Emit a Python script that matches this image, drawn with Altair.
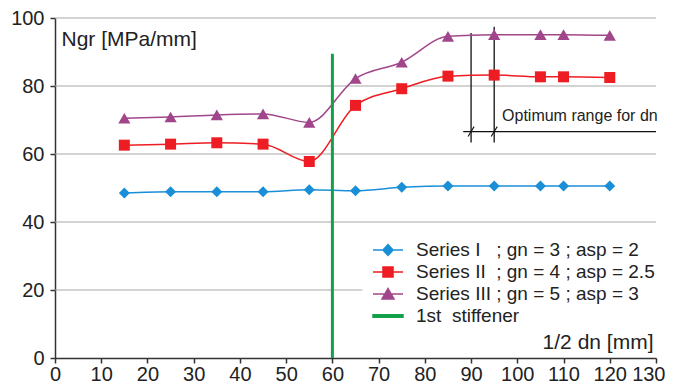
import altair as alt
import pandas as pd

# ---- data ----
x_vals = [15, 25, 35, 45, 55, 65, 75, 85, 95, 105, 110, 120]
s1 = [48.5, 48.9, 48.9, 48.9, 49.5, 49.2, 50.2, 50.6, 50.6, 50.6, 50.6, 50.6]
s2 = [62.6, 62.9, 63.3, 62.9, 57.8, 74.3, 79.2, 82.9, 83.2, 82.7, 82.7, 82.5]
s3 = [70.5, 70.9, 71.5, 71.8, 69.3, 82.2, 87.0, 94.6, 95.1, 95.1, 95.1, 94.9]

NB = "\u00a0"
labels = [
    "Series I" + NB * 3 + "; gn = 3 ; asp = 2",
    "Series II" + NB * 2 + "; gn = 4 ; asp = 2.5",
    "Series III" + NB + "; gn = 5 ; asp = 3",
    "1st" + NB * 2 + "stiffener",
]
colors = ["#1a8fd8", "#ee1d23", "#a1468a", "#12a04a"]
shapes = ["diamond", "square", "triangle-up"]
point_sizes = [121, 121, 150]
legend_paths = [
    "M-1.5,0H1.5M0,-0.55L0.5,0L0,0.55L-0.5,0Z",
    "M-1.5,0H1.5M-0.5,-0.5H0.5V0.5H-0.5Z",
    "M-1.5,0H1.5M0,-0.55L0.6,0.5L-0.6,0.5Z",
    "M-1.5,-0.12H1.5V0.12H-1.5Z",
]

x_ticks = list(range(0, 131, 10))
y_ticks = [0, 20, 40, 60, 80, 100]
x_title = "1/2 dn [mm]"
y_title = "Ngr [MPa/mm]"

grid_y = [20, 40, 60, 80, 100]
grid_x0 = [0, 0, 0, 0, 0]
grid_x1 = [66.5, 130, 130, 130, 130]

stiff_x = [60]
stiff_y0 = [0]
stiff_y1 = [89.5]

opt_vx = [90, 95]
opt_vy0 = [63.4, 63.4]
opt_vy1 = [95.6, 97.4]
opt_hx0 = [88.3]
opt_hx1 = [130]
opt_hy = [66.6]
slash_x0 = [89.35, 94.35]
slash_x1 = [90.65, 95.65]
slash_y0 = [65.15, 65.15]
slash_y1 = [68.05, 68.05]
opt_text = ["Optimum range for dn"]
opt_text_x = [96.7]
opt_text_y = [69.6]

# ---- chart ----
FONT = "Liberation Sans"
TXT = "#222222"
x_scale = alt.Scale(domain=[0, 130], nice=False, zero=False)
y_scale = alt.Scale(domain=[0, 100], nice=False)

ax_x = alt.Axis(
    values=x_ticks, title=x_title, titleX=598, titleY=-10,
    titleAlign="right", titleBaseline="alphabetic", titleAnchor="end",
    titleFontSize=21, titleFontWeight="normal", titleColor=TXT,
    labelFontSize=20, labelColor=TXT, labelPadding=1, labelFlush=False,
    labelAlign=alt.ExprRef(expr="datum.value >= 130 ? 'right' : 'center'"),
    labelOffset=alt.ExprRef(expr="datum.value >= 130 ? 9 : 0"),
    labelOverlap=False, tickSize=5, tickWidth=1.5, tickColor="#333333",
    domainColor="#333333", domainWidth=1.5, grid=False,
)
ax_y = alt.Axis(
    values=y_ticks, title=y_title, titleAngle=0, titleX=6, titleY=27,
    titleAlign="left", titleBaseline="alphabetic", titleAnchor="start",
    titleFontSize=21, titleFontWeight="normal", titleColor=TXT,
    labelFontSize=20, labelColor=TXT, labelPadding=6,
    tickSize=5, tickWidth=1.5, tickColor="#333333",
    domainColor="#333333", domainWidth=1.5, grid=False,
)


def X(f):
    return alt.X(f, scale=x_scale, axis=ax_x, title=x_title)


def Y(f):
    return alt.Y(f, scale=y_scale, axis=ax_y, title=y_title)


grid_df = pd.DataFrame({"gx0": grid_x0, "gx1": grid_x1, "gy": grid_y})
grid = alt.Chart(grid_df).mark_rule(color="#a8a8a8", strokeWidth=1.2).encode(
    x=X("gx0:Q"), x2="gx1:Q", y=Y("gy:Q"),
)

vdf = pd.DataFrame({"x": opt_vx, "y0": opt_vy0, "y1": opt_vy1})
vlines = alt.Chart(vdf).mark_rule(color="#111111", strokeWidth=1.3).encode(
    x=X("x:Q"), y=Y("y0:Q"), y2="y1:Q",
)
hdf = pd.DataFrame({"x0": opt_hx0, "x1": opt_hx1, "y": opt_hy})
hline = alt.Chart(hdf).mark_rule(color="#111111", strokeWidth=1.3).encode(
    x=X("x0:Q"), x2="x1:Q", y=Y("y:Q"),
)
sdf = pd.DataFrame({"x0": slash_x0, "x1": slash_x1, "y0": slash_y0, "y1": slash_y1})
slashes = alt.Chart(sdf).mark_rule(color="#111111", strokeWidth=1.1).encode(
    x=X("x0:Q"), x2="x1:Q", y=Y("y0:Q"), y2="y1:Q",
)
tdf = pd.DataFrame({"t": opt_text, "x": opt_text_x, "y": opt_text_y})
otext = alt.Chart(tdf).mark_text(
    align="left", baseline="alphabetic", fontSize=16, color=TXT, font=FONT
).encode(x=X("x:Q"), y=Y("y:Q"), text="t:N")

lines = []
points = []
for vals, col, shp, sz in zip([s1, s2, s3], colors, shapes, point_sizes):
    df = pd.DataFrame({"x": x_vals, "y": vals})
    lines.append(
        alt.Chart(df).mark_line(color=col, strokeWidth=1.5, interpolate="monotone").encode(
            x=X("x:Q"), y=Y("y:Q"),
        )
    )
    points.append(
        alt.Chart(df).mark_point(filled=True, shape=shp, size=sz, color=col, opacity=1).encode(
            x=X("x:Q"), y=Y("y:Q"),
        )
    )

stdf = pd.DataFrame({"x": stiff_x, "y0": stiff_y0, "y1": stiff_y1})
stiff = alt.Chart(stdf).mark_rule(color=colors[3], strokeWidth=3).encode(
    x=X("x:Q"), y=Y("y0:Q"), y2="y1:Q",
)

leg = alt.Legend(
    title=None, orient="none", legendX=322, legendY=221, labelFontSize=19,
    labelColor=TXT, labelFont=FONT, symbolSize=400, symbolStrokeWidth=1.5,
    rowPadding=1, labelOffset=17, padding=0, labelLimit=500,
)
ldf = pd.DataFrame({"label": labels})
legend_layer = alt.Chart(ldf).mark_point(filled=False, opacity=1, strokeWidth=1.5).encode(
    x=alt.value(-300),
    y=alt.value(-300),
    color=alt.Color("label:N", scale=alt.Scale(domain=labels, range=colors), legend=leg),
    fill=alt.Fill("label:N", scale=alt.Scale(domain=labels, range=colors), legend=leg),
    shape=alt.Shape("label:N", scale=alt.Scale(domain=labels, range=legend_paths), legend=leg),
)

chart = alt.layer(
    grid, vlines, hline, slashes, otext, *lines, stiff, *points, legend_layer
).properties(
    width=601,
    height=340,
    autosize="none",
    padding={"left": 47, "top": 10, "right": 9, "bottom": 30},
).configure(font=FONT).configure_view(stroke=None)

chart.save("out.html", embed_options={"renderer": "svg", "actions": False})
